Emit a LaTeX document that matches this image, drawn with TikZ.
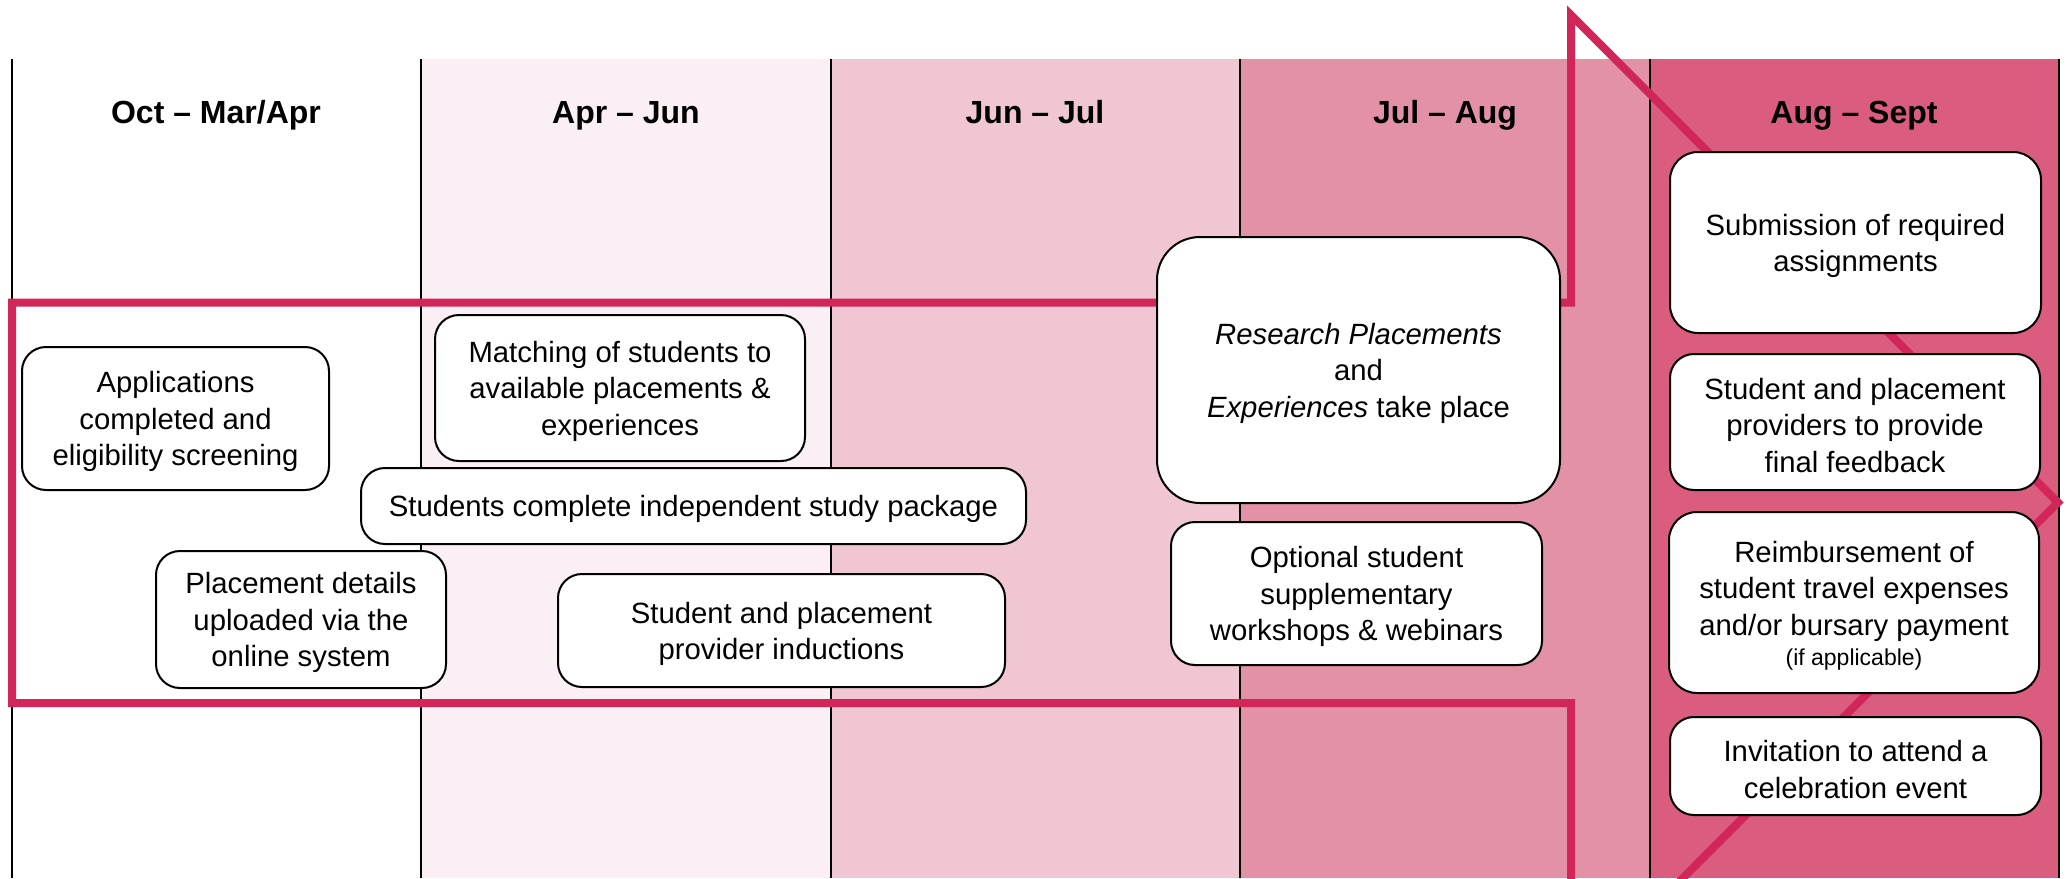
\documentclass[tikz,border=0pt]{standalone}
\usepackage{fontspec}
\setmainfont{Liberation Sans}
\definecolor{ctwo}{HTML}{FAEFF4}
\definecolor{cthree}{HTML}{F0C6D2}
\definecolor{cfour}{HTML}{E391A7}
\definecolor{cfive}{HTML}{DA5C7E}
\definecolor{redline}{HTML}{D2255A}
\newcommand{\topstr}{\rule{0pt}{28pt}}
\begin{document}
\begin{tikzpicture}[x=1pt,y=-1pt,
  box/.style={draw=black, line width=2pt, fill=white, rounded corners=24pt, align=center, inner sep=0pt, font=\fontsize{29.3}{36.5}\selectfont},
  hdr/.style={font=\fontsize{32}{38}\selectfont\bfseries, anchor=base},
  colline/.style={line width=2pt, draw=black},
  arrowline/.style={draw=redline, line width=8pt, line join=miter}]
\useasboundingbox (0,0) rectangle (2069,878);
\clip (0,0) rectangle (2069,878);
% column fills
\fill[ctwo] (421,59) rectangle (831,878);
\fill[cthree] (831,59) rectangle (1240,878);
\fill[cfour] (1240,59) rectangle (1650,878);
\fill[cfive] (1650,59) rectangle (2059,878);
\foreach \x in {12,421,831,1240,1650,2059} \draw[colline] (\x,59) -- (\x,878);
% headers
\node[hdr] (h1) at (216,123.5) {Oct – Mar/Apr};
\node[hdr] (h2) at (626,123.5) {Apr – Jun};
\node[hdr] (h3) at (1035,123.5) {Jun – Jul};
\node[hdr] (h4) at (1445,123.5) {Jul – Aug};
\node[hdr] (h5) at (1854,123.5) {Aug – Sept};
% big arrow outline
\draw[arrowline] (12,302.5) -- (1571,302.5) -- (1571,15) -- (2058,502.5) -- (1571,990) -- (1571,703) -- (12,703) -- cycle;
% boxes
\node[box, minimum width=307pt, minimum height=143pt] (app) at (175.5,418.5) {\topstr Applications\\completed and\\eligibility screening};
\node[box, minimum width=370pt, minimum height=146pt] (match) at (620,388) {\topstr Matching of students to\\available placements \&\\experiences};
\node[box, minimum width=665pt, minimum height=76pt] (study) at (693.5,506) {\topstr Students complete independent study package};
\node[box, minimum width=290pt, minimum height=137pt] (place) at (301,619.5) {\topstr Placement details\\uploaded via the\\online system};
\node[box, minimum width=447pt, minimum height=113pt] (induct) at (781.5,630.5) {\topstr Student and placement\\provider inductions};
\node[box, rounded corners=43pt, minimum width=403pt, minimum height=266pt] (research) at (1358.5,370) {\topstr\textit{Research Placements}\\and\\\textit{Experiences} take place};
\node[box, minimum width=371pt, minimum height=143pt] (optional) at (1356.5,593.5) {\topstr Optional student\\supplementary\\workshops \& webinars};
\node[box, rounded corners=28pt, minimum width=371pt, minimum height=181pt] (submit) at (1855.5,242.5) {\topstr Submission of required\\assignments};
\node[box, minimum width=370pt, minimum height=136pt] (feedback) at (1855,422) {\topstr Student and placement\\providers to provide\\final feedback};
\node[box, rounded corners=28pt, minimum width=370pt, minimum height=181pt] (reimb) at (1854,602.5) {\topstr Reimbursement of\\student travel expenses\\and/or bursary payment\\[-6pt]{\fontsize{23}{28}\selectfont (if applicable)}};
\node[box, minimum width=371pt, minimum height=98pt] (invite) at (1855.5,766) {\topstr Invitation to attend a\\celebration event};
\end{tikzpicture}
\end{document}
